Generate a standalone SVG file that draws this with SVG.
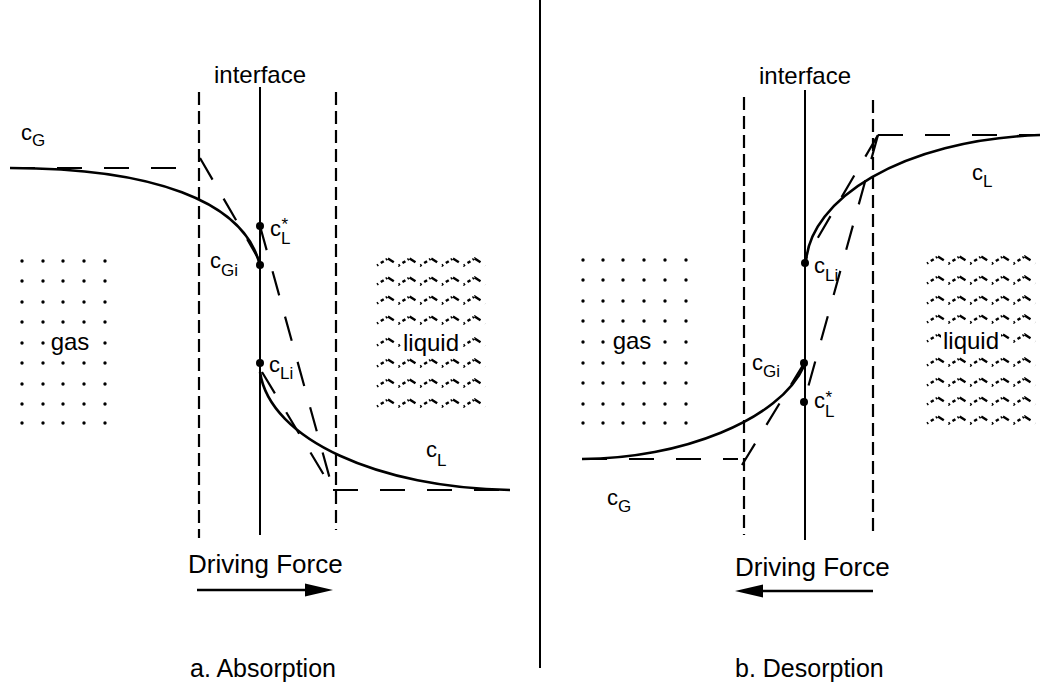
<svg xmlns="http://www.w3.org/2000/svg" xmlns:xlink="http://www.w3.org/1999/xlink" width="1044" height="687" viewBox="0 0 1044 687">
<style>
text{font-family:"Liberation Sans",Arial,Helvetica,sans-serif;fill:#000}
.lbl{font-size:24px}
.big{font-size:25px}
.df{font-size:26px}
.c{font-size:22px}
.sub{font-size:17px}
.iface{stroke:#000;stroke-width:2;fill:none}
.film{stroke:#000;stroke-width:2.2;fill:none;stroke-dasharray:13 6}
.curve{stroke:#000;stroke-width:2.6;fill:none}
.tan{stroke:#000;stroke-width:2.2;fill:none;stroke-dasharray:25 22}
.dot{fill:#000}
.gd{fill:#000}
.wave{stroke:#000;stroke-width:2.4;fill:none;stroke-dasharray:1.5 3 3.5 2.5 1.5 1 7 5.8}
</style>
<defs>
<path id="wrow" class="wave" d="M0,3.5 l10.85,-7 l10.85,7 l10.85,-7 l10.85,7 l10.85,-7 l10.85,7 l10.85,-7 l10.85,7 l10.85,-7 l10.85,7"/>
<circle id="gdot" r="1.7"/>
</defs>
<rect width="1044" height="687" fill="#fff"/>

<line id="divider" x1="540" y1="0" x2="540" y2="668" stroke="#000" stroke-width="2"/>

<g id="panel-a">
  <g id="a-frame">
    <line class="iface" x1="260" y1="87" x2="260" y2="535"/>
    <line class="film" x1="199" y1="92" x2="199" y2="538"/>
    <line class="film" x1="336" y1="92" x2="336" y2="530"/>
    <text class="lbl" x="260" y="83" text-anchor="middle">interface</text>
  </g>
  <g id="a-gas">
    <g class="gd">
      <use xlink:href="#gdot" x="22" y="261"/><use xlink:href="#gdot" x="43" y="261"/><use xlink:href="#gdot" x="63" y="261"/><use xlink:href="#gdot" x="84" y="261"/><use xlink:href="#gdot" x="105" y="261"/>
      <use xlink:href="#gdot" x="22" y="281"/><use xlink:href="#gdot" x="43" y="281"/><use xlink:href="#gdot" x="63" y="281"/><use xlink:href="#gdot" x="84" y="281"/><use xlink:href="#gdot" x="105" y="281"/>
      <use xlink:href="#gdot" x="22" y="302"/><use xlink:href="#gdot" x="43" y="302"/><use xlink:href="#gdot" x="63" y="302"/><use xlink:href="#gdot" x="84" y="302"/><use xlink:href="#gdot" x="105" y="302"/>
      <use xlink:href="#gdot" x="22" y="322"/><use xlink:href="#gdot" x="43" y="322"/><use xlink:href="#gdot" x="63" y="322"/><use xlink:href="#gdot" x="84" y="322"/><use xlink:href="#gdot" x="105" y="322"/>
      <use xlink:href="#gdot" x="22" y="343"/><use xlink:href="#gdot" x="43" y="343"/><use xlink:href="#gdot" x="105" y="343"/>
      <use xlink:href="#gdot" x="22" y="363"/><use xlink:href="#gdot" x="43" y="363"/><use xlink:href="#gdot" x="63" y="363"/><use xlink:href="#gdot" x="84" y="363"/><use xlink:href="#gdot" x="105" y="363"/>
      <use xlink:href="#gdot" x="22" y="384"/><use xlink:href="#gdot" x="43" y="384"/><use xlink:href="#gdot" x="63" y="384"/><use xlink:href="#gdot" x="84" y="384"/><use xlink:href="#gdot" x="105" y="384"/>
      <use xlink:href="#gdot" x="22" y="404"/><use xlink:href="#gdot" x="43" y="404"/><use xlink:href="#gdot" x="63" y="404"/><use xlink:href="#gdot" x="84" y="404"/><use xlink:href="#gdot" x="105" y="404"/>
      <use xlink:href="#gdot" x="22" y="423"/><use xlink:href="#gdot" x="43" y="423"/><use xlink:href="#gdot" x="63" y="423"/><use xlink:href="#gdot" x="84" y="423"/><use xlink:href="#gdot" x="105" y="423"/>
    </g>
    <text class="lbl" x="70" y="350" text-anchor="middle">gas</text>
  </g>
  <g id="a-liquid">
    <use xlink:href="#wrow" x="377" y="262"/>
    <use xlink:href="#wrow" x="377" y="281"/>
    <use xlink:href="#wrow" x="377" y="300"/>
    <use xlink:href="#wrow" x="377" y="320"/>
    <use xlink:href="#wrow" x="377" y="342"/>
    <use xlink:href="#wrow" x="377" y="363"/>
    <use xlink:href="#wrow" x="377" y="383"/>
    <use xlink:href="#wrow" x="377" y="403"/>
    <rect x="401" y="333" width="61" height="23" fill="#fff"/>
    <text class="lbl" x="431" y="351" text-anchor="middle">liquid</text>
  </g>
  <g id="a-connectors">
    <path class="curve" d="M10,168 C150,168 245,200 260,266"/>
    <path class="curve" d="M260,372 C270,440 380,488 510,490"/>
    <path class="tan" d="M10,168 L196,168"/>
    <path class="tan" d="M200,158 L258,258"/>
    <path class="tan" d="M333,490 L510,490"/>
    <path class="tan" d="M260,226 L333,490"/>
    <path class="tan" d="M262,372 L333,490"/>
  </g>
  <g id="a-points">
    <circle class="dot" cx="260" cy="226" r="4"/>
    <circle class="dot" cx="260" cy="265" r="4"/>
    <circle class="dot" cx="260" cy="363" r="4"/>
  </g>
  <g id="a-labels">
    <text class="c" x="21" y="140">c<tspan class="sub" dy="6">G</tspan></text>
    <text class="c" x="270" y="236">c<tspan class="sub" dy="8">L</tspan><tspan class="sub" dx="-9" dy="-14">*</tspan></text>
    <text class="c" x="210" y="268">c<tspan class="sub" dy="8">Gi</tspan></text>
    <text class="c" x="269" y="372">c<tspan class="sub" dy="7">Li</tspan></text>
    <text class="c" x="426" y="457">c<tspan class="sub" dy="9">L</tspan></text>
  </g>
  <g id="a-force">
    <text class="df" x="188" y="573">Driving Force</text>
    <line x1="197" y1="590" x2="310" y2="590" stroke="#000" stroke-width="2.4"/>
    <polygon points="333,590 305,583.5 305,596.5" fill="#000"/>
  </g>
  <text class="big" x="190" y="677">a. Absorption</text>
</g>

<g id="panel-b">
  <g id="b-frame">
    <line class="iface" x1="805" y1="90" x2="805" y2="540"/>
    <line class="film" x1="744" y1="97" x2="744" y2="535"/>
    <line class="film" x1="873" y1="100" x2="873" y2="535"/>
    <text class="lbl" x="805" y="84" text-anchor="middle">interface</text>
  </g>
  <g id="b-gas">
    <g class="gd">
      <use xlink:href="#gdot" x="583" y="260"/><use xlink:href="#gdot" x="603" y="260"/><use xlink:href="#gdot" x="623" y="260"/><use xlink:href="#gdot" x="644" y="260"/><use xlink:href="#gdot" x="665" y="260"/><use xlink:href="#gdot" x="686" y="260"/>
      <use xlink:href="#gdot" x="583" y="280"/><use xlink:href="#gdot" x="603" y="280"/><use xlink:href="#gdot" x="623" y="280"/><use xlink:href="#gdot" x="644" y="280"/><use xlink:href="#gdot" x="665" y="280"/><use xlink:href="#gdot" x="686" y="280"/>
      <use xlink:href="#gdot" x="583" y="301"/><use xlink:href="#gdot" x="603" y="301"/><use xlink:href="#gdot" x="623" y="301"/><use xlink:href="#gdot" x="644" y="301"/><use xlink:href="#gdot" x="665" y="301"/><use xlink:href="#gdot" x="686" y="301"/>
      <use xlink:href="#gdot" x="583" y="321"/><use xlink:href="#gdot" x="603" y="321"/><use xlink:href="#gdot" x="623" y="321"/><use xlink:href="#gdot" x="644" y="321"/><use xlink:href="#gdot" x="665" y="321"/><use xlink:href="#gdot" x="686" y="321"/>
      <use xlink:href="#gdot" x="583" y="342"/><use xlink:href="#gdot" x="603" y="342"/><use xlink:href="#gdot" x="665" y="342"/><use xlink:href="#gdot" x="686" y="342"/>
      <use xlink:href="#gdot" x="583" y="363"/><use xlink:href="#gdot" x="603" y="363"/><use xlink:href="#gdot" x="623" y="363"/><use xlink:href="#gdot" x="644" y="363"/><use xlink:href="#gdot" x="665" y="363"/><use xlink:href="#gdot" x="686" y="363"/>
      <use xlink:href="#gdot" x="583" y="383"/><use xlink:href="#gdot" x="603" y="383"/><use xlink:href="#gdot" x="623" y="383"/><use xlink:href="#gdot" x="644" y="383"/><use xlink:href="#gdot" x="665" y="383"/><use xlink:href="#gdot" x="686" y="383"/>
      <use xlink:href="#gdot" x="583" y="404"/><use xlink:href="#gdot" x="603" y="404"/><use xlink:href="#gdot" x="623" y="404"/><use xlink:href="#gdot" x="644" y="404"/><use xlink:href="#gdot" x="665" y="404"/><use xlink:href="#gdot" x="686" y="404"/>
      <use xlink:href="#gdot" x="583" y="423"/><use xlink:href="#gdot" x="603" y="423"/><use xlink:href="#gdot" x="623" y="423"/><use xlink:href="#gdot" x="644" y="423"/><use xlink:href="#gdot" x="665" y="423"/><use xlink:href="#gdot" x="686" y="423"/>
    </g>
    <text class="lbl" x="632" y="349" text-anchor="middle">gas</text>
  </g>
  <g id="b-liquid">
    <use xlink:href="#wrow" x="927" y="260"/>
    <use xlink:href="#wrow" x="927" y="280"/>
    <use xlink:href="#wrow" x="927" y="300"/>
    <use xlink:href="#wrow" x="927" y="319"/>
    <use xlink:href="#wrow" x="927" y="338"/>
    <use xlink:href="#wrow" x="927" y="362"/>
    <use xlink:href="#wrow" x="927" y="382"/>
    <use xlink:href="#wrow" x="927" y="401"/>
    <use xlink:href="#wrow" x="927" y="420"/>
    <rect x="941" y="331" width="60" height="23" fill="#fff"/>
    <text class="lbl" x="971" y="349" text-anchor="middle">liquid</text>
  </g>
  <g id="b-connectors">
    <path class="curve" d="M806,262 C810,200 900,140 1040,135"/>
    <path class="curve" d="M804,366 C780,420 680,459 582,459"/>
    <path class="tan" d="M878,135 L1040,135"/>
    <path class="tan" d="M878,135 L804,402"/>
    <path class="tan" d="M878,135 L806,258"/>
    <path class="tan" d="M582,459 L738,459"/>
    <path class="tan" d="M742,465 L803,365"/>
  </g>
  <g id="b-points">
    <circle class="dot" cx="805" cy="263" r="4"/>
    <circle class="dot" cx="804" cy="363" r="4"/>
    <circle class="dot" cx="804" cy="402" r="4"/>
  </g>
  <g id="b-labels">
    <text class="c" x="972" y="180">c<tspan class="sub" dy="7">L</tspan></text>
    <text class="c" x="814" y="273">c<tspan class="sub" dy="8">Li</tspan></text>
    <text class="c" x="752" y="370">c<tspan class="sub" dy="7">Gi</tspan></text>
    <text class="c" x="814" y="408">c<tspan class="sub" dy="9">L</tspan><tspan class="sub" dx="-9" dy="-14">*</tspan></text>
    <text class="c" x="607" y="505">c<tspan class="sub" dy="7">G</tspan></text>
  </g>
  <g id="b-force">
    <text class="df" x="735" y="576">Driving Force</text>
    <line x1="760" y1="591" x2="873" y2="591" stroke="#000" stroke-width="2.4"/>
    <polygon points="735,591 763,584.5 763,597.5" fill="#000"/>
  </g>
  <text class="big" x="735" y="677">b. Desorption</text>
</g>
</svg>
